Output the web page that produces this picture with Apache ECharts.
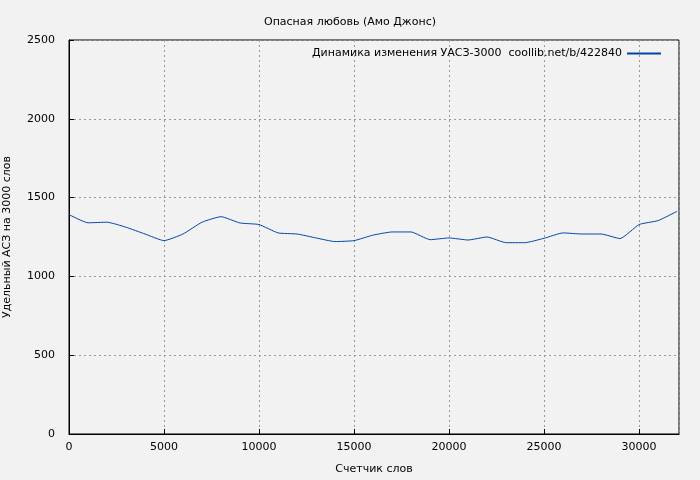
<!DOCTYPE html>
<html><head><meta charset="utf-8">
<script src="https://cdn.jsdelivr.net/npm/echarts@6/dist/echarts.min.js"></script>
<style>html,body{margin:0;background:#f2f2f2}#c{width:700px;height:480px}</style>
</head><body><div id="c"></div>
<script>
// счетчик слов и удельный АСЗ
let words = [0,1000,2000,3000,4000,5000,6000,7000,8000,9000,10000,11000,12000,13000,14000,15000,16000,
    17000,18000,19000,20000,21000,22000,23000,24000,25000,26000,27000,28000,29000,30000,31000,32000];
let values = [1392,1340,1344,1312,1269,1227,1269,1344,1379,1339,1329,1276,1269,1244,1221,1227,1262,
    1282,1282,1233,1244,1231,1250,1214,1214,1242,1276,1269,1269,1240,1329,1354,1413];
let seriesName = 'Динамика изменения УАСЗ-3000  coollib.net/b/422840';

let font = 'DejaVu Sans';
let chart = echarts.init(document.getElementById('c'));
chart.setOption({
    backgroundColor: '#f2f2f2',
    animation: false,
    title: {
        text: 'Опасная любовь (Амо Джонс)', left: 'center', top: 12,
        textStyle: {fontFamily: font, fontSize: 11, fontWeight: 'normal', color: '#000'}
    },
    legend: {
        right: 34, top: 43, itemWidth: 34, itemHeight: 2, itemGap: 8,
        icon: 'rect', align: 'right',
        textStyle: {fontFamily: font, fontSize: 11, color: '#000'},
        data: [seriesName]
    },
    grid: {left: 69, right: 21, top: 40, bottom: 46, containLabel: false, outerBoundsMode: 'none',
        show: true, borderColor: '#000', borderWidth: 1, backgroundColor: 'transparent'},
    xAxis: {
        type: 'value', min: 0, max: 32100, interval: 5000,
        name: 'Счетчик слов', nameLocation: 'middle', nameGap: 30,
        nameTextStyle: {fontFamily: font, fontSize: 11, color: '#000'},
        axisLine: {lineStyle: {color: '#000'}},
        axisTick: {inside: true, length: 5, lineStyle: {color: '#000'}},
        axisLabel: {fontFamily: font, fontSize: 11, color: '#000', showMaxLabel: false, formatter: v => String(v)},
        splitLine: {lineStyle: {color: '#999', type: [2, 3]}}
    },
    yAxis: {
        type: 'value', min: 0, max: 2500, interval: 500,
        name: 'Удельный АСЗ на 3000 слов', nameLocation: 'middle', nameGap: 56,
        nameTextStyle: {fontFamily: font, fontSize: 11, color: '#000'},
        axisLine: {lineStyle: {color: '#000'}},
        axisTick: {inside: true, length: 5, lineStyle: {color: '#000'}},
        axisLabel: {fontFamily: font, fontSize: 11, color: '#000', margin: 14, formatter: v => String(v)},
        splitLine: {lineStyle: {color: '#999', type: [2, 3]}}
    },
    series: [{
        type: 'line', name: seriesName, showSymbol: false, smooth: 0.15,
        lineStyle: {color: '#0044aa', width: 1}, itemStyle: {color: '#0044aa'},
        data: words.map((w, i) => [w, values[i]])
    }]
});
</script></body></html>
